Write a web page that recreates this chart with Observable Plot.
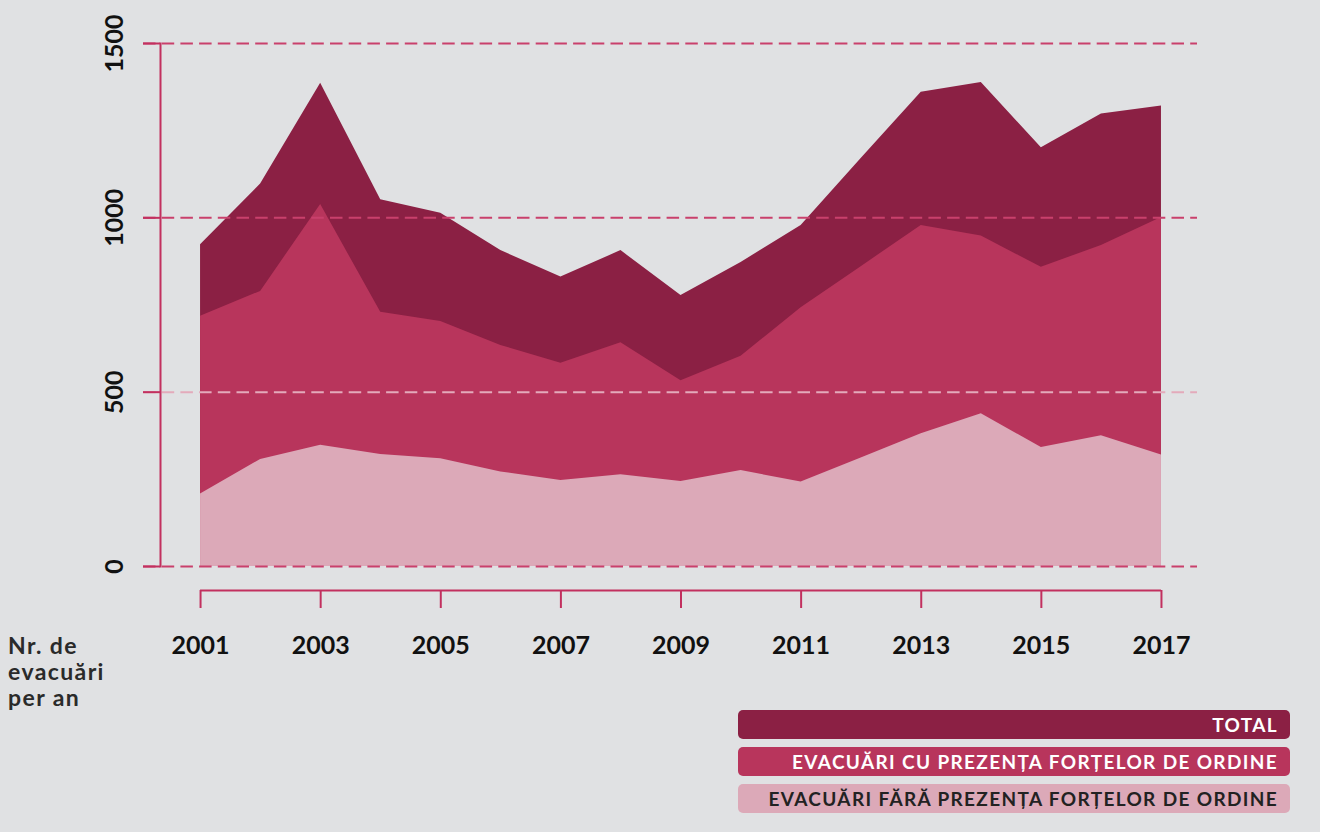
<!DOCTYPE html>
<html>
<head>
<meta charset="utf-8">
<script src="https://cdn.jsdelivr.net/npm/d3@7"></script>
<script src="https://cdn.jsdelivr.net/npm/@observablehq/plot@0.6"></script>
<style>
  html, body { margin: 0; padding: 0; background: #e0e1e3; }
  #wrap { position: relative; width: 1320px; height: 832px; background: #e0e1e3; font-family: Lato, "Open Sans", sans-serif; }
  #ylab { position: absolute; left: 8px; top: 632px; font-weight: 700; font-size: 23px; line-height: 26px; color: #2a2a2a; letter-spacing: 1.4px; }
  #legend { position: absolute; left: 738px; top: 710px; width: 552px; }
  .lg { height: 29px; border-radius: 5px; margin-bottom: 8px; text-align: right; padding-right: 12px; box-sizing: border-box;
        font-weight: 700; font-size: 19px; line-height: 29px; color: #fff; letter-spacing: 1.35px; font-family: Lato, "Open Sans", sans-serif; }
</style>
</head>
<body>
<div id="wrap">
  <div id="chart"></div>
  <div id="ylab">Nr. de<br>evacuări<br>per an</div>
  <div id="legend"></div>
</div>
<script>
const years = [2001,2002,2003,2004,2005,2006,2007,2008,2009,2010,2011,2012,2013,2014,2015,2016,2017];
const total = [923,1097,1386,1052,1013,906,830,906,777,872,978,1170,1360,1388,1201,1298,1321];
const cuForte = [718,789,1038,729,703,634,583,642,533,603,742,860,978,948,858,921,1001];
const faraForte = [208,307,348,321,309,271,247,263,244,275,242,311,381,438,341,375,320];
const yTicks = [0,500,1000,1500];
const xTicks = [2001,2003,2005,2007,2009,2011,2013,2015,2017];
const seriesNames = ["TOTAL","EVACUĂRI CU PREZENȚA FORȚELOR DE ORDINE","EVACUĂRI FĂRĂ PREZENȚA FORȚELOR DE ORDINE"];
const seriesColors = ["#8b2044","#b8355c","#dca9b8"];
const seriesText = ["#ffffff","#ffffff","#222222"];

const rows = years.map((y,i) => ({year: y, total: total[i], cu: cuForte[i], fara: faraForte[i]}));
const gridCol = "#c9406c";
const axisCol = "#c2305f";

const chart = Plot.plot({
  width: 1320,
  height: 700,
  marginLeft: 143,
  marginRight: 123,
  marginTop: 43,
  marginBottom: 134,
  style: {background: "transparent", fontFamily: "Lato, 'Open Sans', sans-serif"},
  x: {domain: [2000.05, 2017.6]},
  y: {domain: [0, 1500]},
  marks: [
    Plot.areaY(rows, {x: "year", y: "total", fill: seriesColors[0]}),
    Plot.areaY(rows, {x: "year", y: "cu", fill: seriesColors[1]}),
    Plot.areaY(rows, {x: "year", y: "fara", fill: seriesColors[2]}),
    Plot.ruleY(yTicks.filter(d => d !== 500), {stroke: gridCol, strokeWidth: 2, strokeDasharray: "12.5,6.2"}),
    Plot.ruleY([500], {stroke: "#e3aabb", strokeWidth: 2, strokeDasharray: "12.5,6.2"}),
    Plot.frame({anchor: "left", dx: 17, stroke: axisCol, strokeWidth: 2}),
    Plot.axisY({ticks: yTicks, tickSize: 17, dx: 17, tickRotate: -90, tickPadding: 21,
      stroke: axisCol, strokeWidth: 2, fill: "#111", fontSize: 25, fontWeight: 700,
      tickFormat: d => String(d), label: null, style: {letterSpacing: "2.5px"}}),
    Plot.ruleY([0], {x1: years[0], x2: years[years.length-1], dy: 24, stroke: axisCol, strokeWidth: 2}),
    Plot.axisX({ticks: xTicks, tickSize: 18, dy: 24, tickPadding: 28, stroke: axisCol, strokeWidth: 2,
      fill: "#111", fontSize: 25, fontWeight: 700, tickFormat: d => String(d), label: null,
      style: {letterSpacing: "3px"}})
  ]
});
document.getElementById("chart").appendChild(chart);

const legend = document.getElementById("legend");
seriesNames.forEach((n,i) => {
  const d = document.createElement("div");
  d.className = "lg";
  d.style.background = seriesColors[i];
  d.style.color = seriesText[i];
  d.textContent = n;
  legend.appendChild(d);
});
</script>
</body>
</html>
